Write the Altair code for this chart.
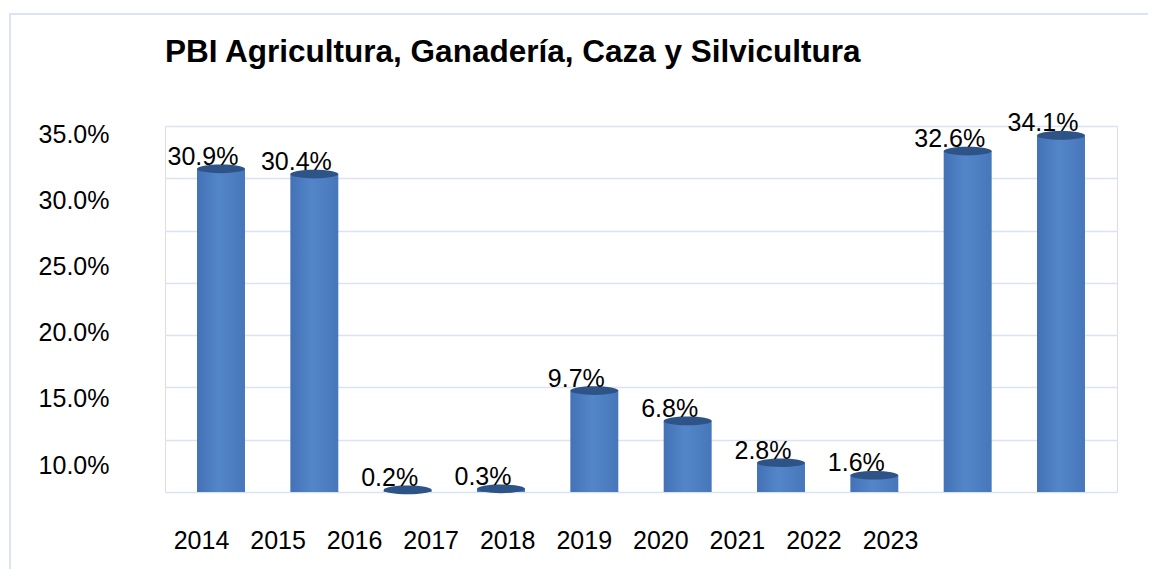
import altair as alt
import pandas as pd

# ---- data ----
title_text = "PBI Agricultura, Ganadería, Caza y Silvicultura"
years = ["2014", "2015", "2016", "2017", "2018", "2019", "2020", "2021", "2022", "2023"]
values = [30.9, 30.4, 0.2, 0.3, 9.7, 6.8, 2.8, 1.6, 32.6, 34.1]
bar_labels = ["30.9%", "30.4%", "0.2%", "0.3%", "9.7%", "6.8%", "2.8%", "1.6%", "32.6%", "34.1%"]
grid_values = [0, 5, 10, 15, 20, 25, 30, 35]
y_tick_labels = [10, 15, 20, 25, 30, 35]

FONT = "Liberation Sans"
W, H = 952, 366

df = pd.DataFrame({"year": years, "value": values, "label": bar_labels})
df_years = pd.DataFrame({"year": years})
df_ticks = pd.DataFrame({"tick": y_tick_labels})

x_bar = alt.X("year:N", sort=years, axis=None,
              scale=alt.Scale(paddingInner=0.486, paddingOuter=0.343))
y_bar = alt.Y("value:Q", scale=alt.Scale(domain=[0, 35], nice=False),
              axis=alt.Axis(values=grid_values, labels=False, ticks=False, domain=False,
                            grid=True, gridColor="#d9e3f3", gridWidth=1.6, title=None))

bar_fill = alt.LinearGradient(
    gradient="linear",
    stops=[alt.GradientStop(color="#4372b6", offset=0),
           alt.GradientStop(color="#5386c8", offset=0.45),
           alt.GradientStop(color="#4677bb", offset=1)],
    x1=0, x2=1, y1=0, y2=0)

base = alt.Chart(df)
bars = base.mark_bar(color=bar_fill).encode(x=x_bar, y=y_bar)
caps = base.mark_point(shape="M-1,0A1,0.18,0,1,1,1,0A1,0.18,0,1,1,-1,0Z",
                       size=2304, filled=True, color="#2e5387", opacity=1,
                       strokeWidth=0).encode(x=x_bar, y=y_bar)
texts = base.mark_text(font=FONT, fontSize=25, dx=-18, dy=-4, baseline="alphabetic",
                       align="center", color="black").encode(
    x=x_bar, y=y_bar, text="label:N")

main = alt.layer(bars, caps, texts)

# year labels axis (as laid out in the reference)
xlab = alt.Chart(df_years).mark_point(opacity=0).encode(
    x=alt.X("year:N", sort=years,
            scale=alt.Scale(type="point", range=[36, 725], padding=0),
            axis=alt.Axis(orient="bottom", ticks=False, domain=False, grid=False,
                          labelPadding=36, labelFontSize=25, labelFont=FONT,
                          labelColor="black", labelAngle=0, title=None)))

# percentage labels axis (as laid out in the reference)
ylab = alt.Chart(df_ticks).mark_point(opacity=0).encode(
    y=alt.Y("tick:Q",
            scale=alt.Scale(domain=[10, 35], range=[339, 8], nice=False, zero=False),
            axis=alt.Axis(orient="left", values=y_tick_labels,
                          labelExpr="format(datum.value, '.1f') + '%'",
                          ticks=False, domain=False, grid=False, labelPadding=56,
                          labelFontSize=25, labelFont=FONT, labelColor="black",
                          title=None)))

frame = alt.Chart(pd.DataFrame({"a": [0]})).mark_rect(
    fillOpacity=0, stroke="#dae4f4", strokeWidth=2).encode(
    x=alt.value(-155), x2=alt.value(1400), y=alt.value(-112), y2=alt.value(800))

chart = alt.layer(frame, main, xlab, ylab).resolve_scale(
    x="independent", y="independent"
).properties(
    width=W, height=H,
    title=alt.TitleParams(title_text, anchor="start", frame="group", font=FONT,
                          fontSize=31.5, fontWeight="bold", color="black", offset=-55),
    padding={"left": 157, "top": 118, "right": 31, "bottom": 77},
    autosize=alt.AutoSizeParams(type="none"),
).configure_view(stroke="transparent").configure(background="white")

chart.save("out.html", embed_options={"renderer": "svg", "actions": False})
